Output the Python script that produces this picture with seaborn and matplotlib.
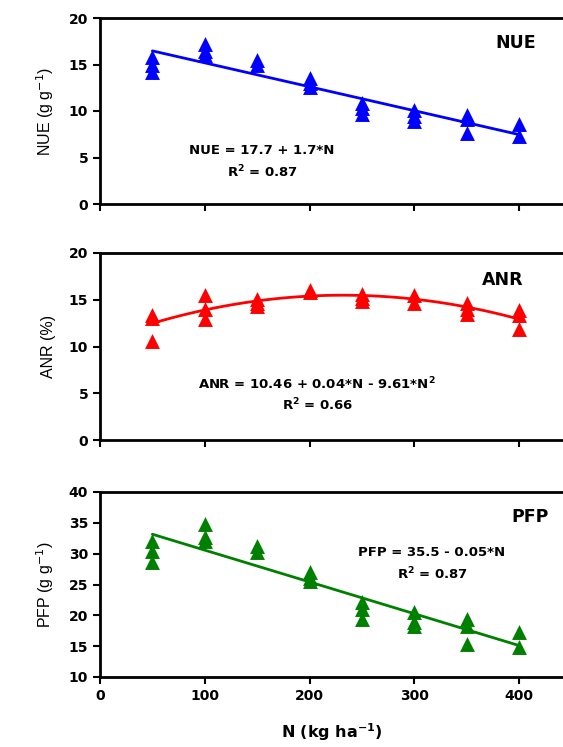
import numpy as np
import pandas as pd
import matplotlib
matplotlib.use("Agg")
import matplotlib.pyplot as plt
import seaborn as sns

# Nitrogen rates (kg ha-1) and replicate observations at each rate
n_rate = [50, 50, 50, 100, 100, 100, 150, 150, 200, 200, 200,
          250, 250, 250, 300, 300, 300, 350, 350, 350, 400, 400]
nue = [15.8, 15.0, 14.2, 17.2, 16.5, 16.0, 15.5, 14.9, 13.5, 13.0, 12.6,
       10.9, 10.3, 9.7, 10.1, 9.5, 8.9, 9.6, 9.1, 7.6, 8.6, 7.3]

n_rate_anr = [50, 50, 50, 100, 100, 100, 150, 150, 150, 200, 200,
              250, 250, 250, 300, 300, 350, 350, 350, 400, 400, 400]
anr = [13.4, 13.0, 10.6, 15.5, 14.0, 12.9, 15.1, 14.7, 14.3, 16.0, 15.8,
       15.6, 15.2, 14.9, 15.5, 14.6, 14.7, 14.0, 13.5, 13.9, 13.4, 11.9]

n_rate_pfp = [50, 50, 50, 100, 100, 100, 150, 150, 200, 200, 200,
              250, 250, 250, 300, 300, 300, 350, 350, 350, 400, 400]
pfp = [32.0, 30.4, 28.6, 34.8, 32.7, 32.0, 31.2, 30.2, 27.0, 26.0, 25.6,
       22.2, 21.0, 19.4, 20.5, 19.0, 18.2, 19.4, 18.3, 15.4, 17.3, 14.8]

x_ticks = [0, 100, 200, 300, 400]

sns.set_style("ticks")
plt.rcParams["font.family"] = ["DejaVu Sans"]
plt.rcParams["text.color"] = "black"
plt.rcParams["axes.labelcolor"] = "black"
plt.rcParams["xtick.color"] = "black"
plt.rcParams["ytick.color"] = "black"

W, H = 563, 747
fig = plt.figure(figsize=(W / 100, H / 100), dpi=100)

def px_axes(top, bottom):
    return fig.add_axes([100 / W, 1 - bottom / H, (W - 100) / W, (bottom - top) / H])

panels = [
    dict(x=n_rate, y=nue, color="#0000ff", order=1, top=18, bottom=204,
         ylim=(0, 20), yticks=[0, 5, 10, 15, 20],
         ylabel="NUE (g g$^{-1}$)", name="NUE", name_xy=(516, 43),
         eq=["NUE = 17.7 + 1.7*N", r"R$^\mathbf{2}$ = 0.87"], eq_xy=(262, 151)),
    dict(x=n_rate_anr, y=anr, color="#ff0000", order=2, top=253, bottom=440,
         ylim=(0, 20), yticks=[0, 5, 10, 15, 20],
         ylabel="ANR (%)", name="ANR", name_xy=(503, 280),
         eq=[r"ANR = 10.46 + 0.04*N - 9.61*N$^\mathbf{2}$", r"R$^\mathbf{2}$ = 0.66"],
         eq_xy=(317, 384)),
    dict(x=n_rate_pfp, y=pfp, color="#008000", order=1, top=492, bottom=677,
         ylim=(10, 40), yticks=[10, 15, 20, 25, 30, 35, 40],
         ylabel="PFP (g g$^{-1}$)", name="PFP", name_xy=(530, 517),
         eq=["PFP = 35.5 - 0.05*N", r"R$^\mathbf{2}$ = 0.87"], eq_xy=(432, 553)),
]

for i, p in enumerate(panels):
    ax = px_axes(p["top"], p["bottom"])
    df = pd.DataFrame({"N": p["x"], "V": p["y"]})
    sns.regplot(data=df, x="N", y="V", ax=ax, order=p["order"], ci=None,
                truncate=True, marker="^", color=p["color"],
                scatter_kws=dict(s=115, alpha=1, linewidths=0),
                line_kws=dict(lw=2.0))
    ax.set_xlim(0, 442)
    ax.set_ylim(*p["ylim"])
    ax.set_yticks(p["yticks"])
    ax.set_xticks(x_ticks)
    for s in ["left", "bottom", "top"]:
        ax.spines[s].set_linewidth(2.0)
        ax.spines[s].set_color("black")
    ax.spines["right"].set_visible(False)
    ax.tick_params(axis="both", direction="out", length=5, width=1.5,
                   labelsize=10, colors="black")
    for lab in ax.get_yticklabels() + ax.get_xticklabels():
        lab.set_fontweight("bold")
    if i < 2:
        ax.set_xticklabels([])
        ax.set_xlabel("")
    else:
        ax.set_xlabel(r"N (kg ha$^\mathbf{-1}$)", fontsize=11.5,
                      fontweight="bold", labelpad=13, color="black")
    ax.set_ylabel(p["ylabel"], fontsize=11.5, labelpad=9, color="black",
                  family=["Liberation Sans", "DejaVu Sans"])
    nx, ny = p["name_xy"]
    fig.text(nx / W, 1 - ny / H, p["name"], ha="center", va="center",
             fontsize=12.5, fontweight="bold", color="black")
    ex, ey = p["eq_xy"]
    fig.text(ex / W, 1 - ey / H, p["eq"][0], ha="center", va="center",
             fontsize=9.5, fontweight="bold", color="black")
    fig.text(ex / W, 1 - (ey + 21) / H, p["eq"][1], ha="center", va="center",
             fontsize=9.5, fontweight="bold", color="black")

fig.savefig("out.png", dpi=100)
